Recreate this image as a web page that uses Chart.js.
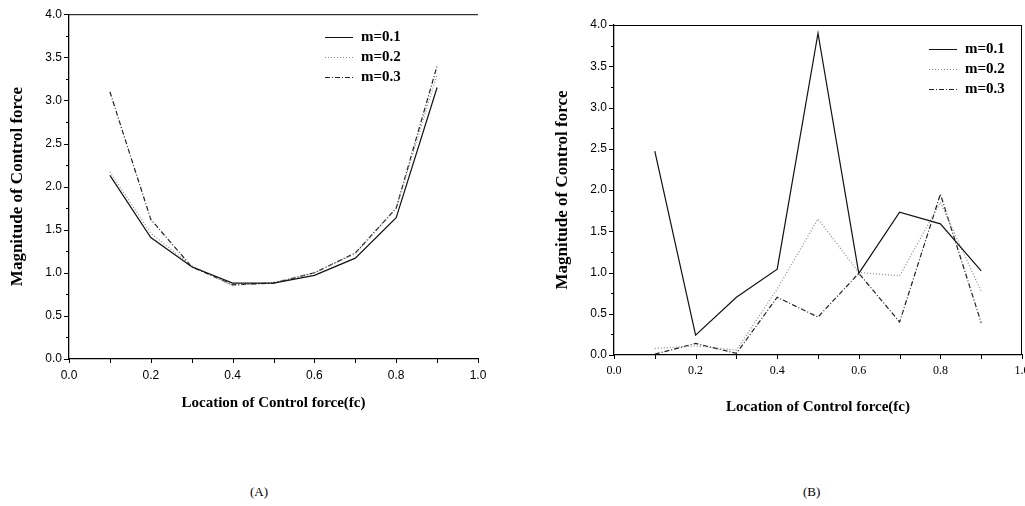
<!DOCTYPE html>
<html>
<head>
<meta charset="utf-8">
<script src="https://cdn.jsdelivr.net/npm/chart.js@4.4.1/dist/chart.umd.min.js"></script>
<style>
  body { margin: 0; background: #fff; width: 1025px; height: 506px; overflow: hidden; position: relative; }
  .box { position: absolute; top: 0; }
  .cap { position: absolute; top: 484px; font: 13px "Liberation Serif", serif; color: #000; }
</style>
</head>
<body>
<div class="box" style="left:0;width:500px;height:430px"><canvas id="chartA"></canvas></div>
<div class="box" style="left:520px;width:505px;height:430px"><canvas id="chartB"></canvas></div>
<div class="cap" style="left:250px">(A)</div>
<div class="cap" style="left:803px">(B)</div>
<script>
// location of control force
var locations = [0.1, 0.2, 0.3, 0.4, 0.5, 0.6, 0.7, 0.8, 0.9];
var seriesNames = ['m=0.1', 'm=0.2', 'm=0.3'];

// (A)
var a_m01 = [2.13, 1.41, 1.07, 0.88, 0.88, 0.97, 1.17, 1.64, 3.15];
var a_m02 = [2.17, 1.46, 1.08, 0.85, 0.89, 1.00, 1.22, 1.75, 3.30];
var a_m03 = [3.10, 1.62, 1.07, 0.86, 0.88, 1.00, 1.23, 1.75, 3.40];

// (B)
var b_m01 = [2.47, 0.24, 0.70, 1.04, 3.90, 0.99, 1.73, 1.59, 1.02];
var b_m02 = [0.08, 0.11, 0.06, 0.80, 1.65, 1.00, 0.96, 1.85, 0.77];
var b_m03 = [0.01, 0.14, 0.02, 0.70, 0.46, 0.99, 0.40, 1.95, 0.39];

var xTicks = [0, 0.1, 0.2, 0.3, 0.4, 0.5, 0.6, 0.7, 0.8, 0.9, 1.0];
var yTicks = [0, 0.25, 0.5, 0.75, 1, 1.25, 1.5, 1.75, 2, 2.25, 2.5, 2.75, 3, 3.25, 3.5, 3.75, 4];

var styles = [
    { color: '#111', dash: [] },
    { color: '#888', dash: [1, 2] },
    { color: '#222', dash: [5, 2, 1, 2] }
];

function pts(vals) {
    return locations.map(function (x, i) { return { x: x, y: vals[i] }; });
}

// minor/major ticks, frame and the inner legend
var decor = {
    id: 'decor',
    afterDraw: function (chart, args, opts) {
        var ctx = chart.ctx, xs = chart.scales.x, ys = chart.scales.y, ca = chart.chartArea;
        ctx.save();
        ctx.strokeStyle = '#000';
        ctx.lineWidth = 1;
        ctx.beginPath();
        xTicks.forEach(function (v, i) {
            var px = Math.round(xs.getPixelForValue(v)) + 0.5;
            ctx.moveTo(px, ca.bottom); ctx.lineTo(px, ca.bottom + 4);
        });
        yTicks.forEach(function (v, i) {
            var py = Math.round(ys.getPixelForValue(v)) + 0.5;
            var len = i % 2 === 0 ? 5 : 3;
            ctx.moveTo(ca.left, py); ctx.lineTo(ca.left - len, py);
        });
        ctx.moveTo(ca.left, ca.top + 0.5); ctx.lineTo(ca.right, ca.top + 0.5);
        if (opts.rightBorder) {
            ctx.moveTo(ca.right - 0.5, ca.top); ctx.lineTo(ca.right - 0.5, ca.bottom);
        }
        ctx.stroke();

        ctx.font = 'bold 15px "Liberation Serif", serif';
        ctx.textBaseline = 'middle';
        ctx.fillStyle = '#000';
        chart.data.datasets.forEach(function (ds, i) {
            var y = opts.y + i * 20;
            ctx.beginPath();
            ctx.strokeStyle = ds.borderColor;
            ctx.setLineDash(ds.borderDash);
            ctx.moveTo(opts.x, y + 0.5); ctx.lineTo(opts.x + 28, y + 0.5);
            ctx.stroke();
            ctx.setLineDash([]);
            ctx.fillText(ds.label, opts.x + 36, y);
        });
        ctx.restore();
    }
};

function makeChart(id, sets, cfg) {
    var ctx = document.getElementById(id).getContext('2d');
    return new Chart(ctx, {
        type: 'line',
        data: {
            datasets: sets.map(function (vals, i) {
                return {
                    label: seriesNames[i],
                    data: pts(vals),
                    borderColor: styles[i].color,
                    borderDash: styles[i].dash,
                    borderWidth: 1.2,
                    pointRadius: 0,
                    tension: 0,
                    fill: false
                };
            })
        },
        options: {
            responsive: true,
            maintainAspectRatio: false,
            animation: false,
            layout: { padding: { top: cfg.top, right: cfg.right, left: 0, bottom: 0 } },
            plugins: {
                legend: { display: false },
                tooltip: { enabled: false },
                decor: { x: cfg.legX, y: cfg.legY, rightBorder: cfg.rightBorder }
            },
            scales: {
                x: {
                    type: 'linear',
                    min: 0, max: 1,
                    grid: { display: false, drawTicks: false },
                    border: { display: true, color: '#000', width: 1.3 },
                    ticks: {
                        stepSize: 0.2, padding: 9, color: '#000', maxRotation: 0,
                        font: { size: 12, family: cfg.xFont },
                        callback: function (v) { return v.toFixed(1); }
                    },
                    title: {
                        display: true, text: 'Location of Control force(fc)', color: '#000',
                        font: { size: 15, weight: 'bold', family: '"Liberation Serif", serif' },
                        padding: { top: 0, bottom: cfg.xTitlePad }
                    },
                    afterFit: function (s) { s.height = cfg.xHeight; s.paddingLeft = 0; s.paddingRight = 0; }
                },
                y: {
                    min: 0, max: 4,
                    grid: { display: false, drawTicks: false },
                    border: { display: true, color: '#000', width: 1.3 },
                    ticks: {
                        stepSize: 0.5, padding: 7, color: '#000',
                        font: { size: 12, family: '"Liberation Sans", Arial, sans-serif' },
                        callback: function (v) { return v.toFixed(1); }
                    },
                    title: {
                        display: true, text: 'Magnitude of Control force', color: '#000',
                        font: { size: 17, weight: 'bold', family: '"Liberation Serif", serif' },
                        padding: { top: cfg.yTitlePad, bottom: 0 }
                    },
                    afterFit: function (s) { s.width = cfg.yWidth; }
                }
            }
        },
        plugins: [decor]
    });
}

makeChart('chartA', [a_m01, a_m02, a_m03], {
    top: 13, right: 22, yWidth: 69, xHeight: 71, xTitlePad: 18, yTitlePad: 7,
    legX: 325, legY: 37, rightBorder: false, xFont: '"Liberation Sans", Arial, sans-serif'
});
makeChart('chartB', [b_m01, b_m02, b_m03], {
    top: 25, right: 3, yWidth: 94, xHeight: 75, xTitlePad: 14, yTitlePad: 32,
    legX: 409, legY: 49, rightBorder: true, xFont: '"Liberation Serif", serif'
});
</script>
</body>
</html>
